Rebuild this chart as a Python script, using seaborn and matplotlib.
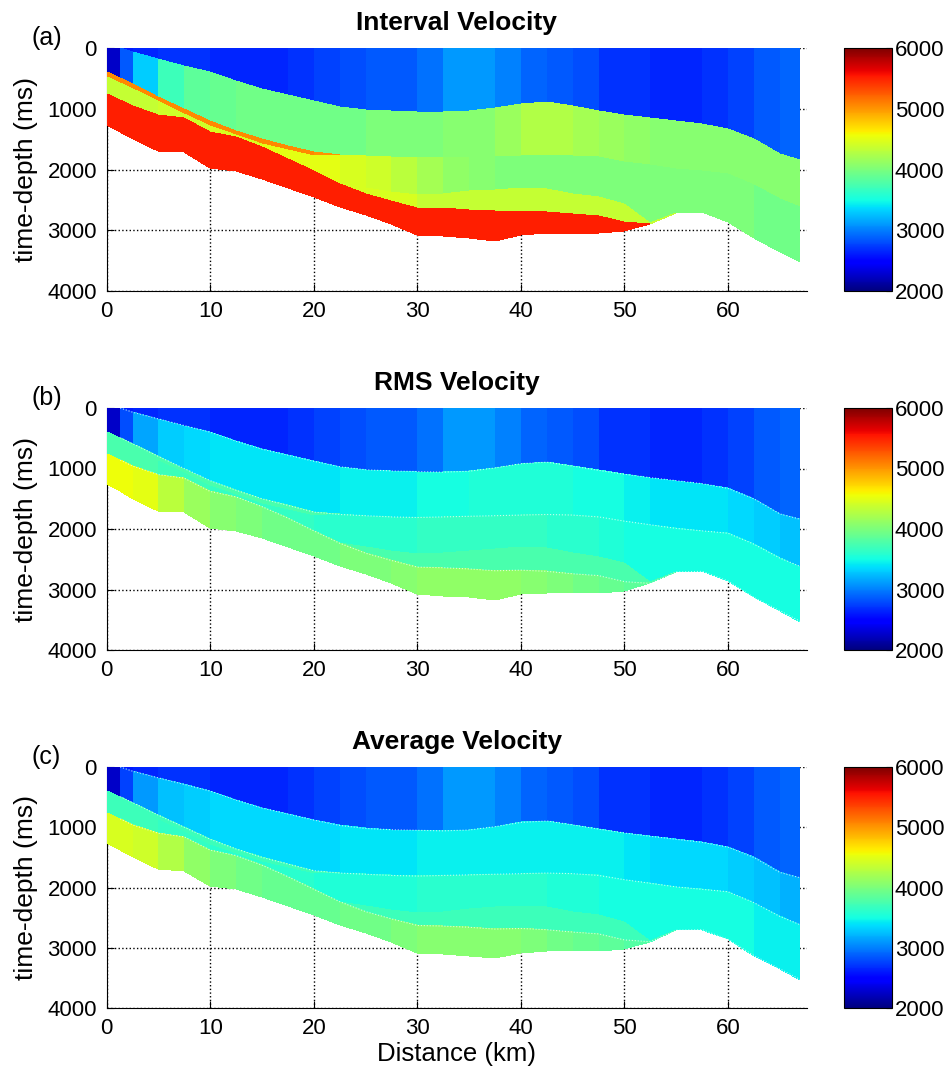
import numpy as np
import matplotlib
matplotlib.use('Agg')
import matplotlib.pyplot as plt
import seaborn as sns

sns.set_style('ticks', {'axes.edgecolor': 'black', 'text.color': 'black',
                        'axes.labelcolor': 'black', 'xtick.color': 'black',
                        'ytick.color': 'black'})
plt.rcParams['font.family'] = ['Liberation Sans', 'DejaVu Sans']

# node positions along the line (km)
distance_km = [0, 1.3, 2.5, 5, 7.5, 10, 12.5, 15, 17.5, 20, 22.5, 25, 27.5, 30, 32.5,
               35, 37.5, 40, 42.5, 45, 47.5, 50, 52.5, 55, 57.5, 60, 62.5, 65, 67]

# interfaces (ms)
surface_ms = [0] * 29
water_base_ms = [0, 0, 70, 180, 290, 400, 550, 680, 780, 880, 970, 1020, 1040, 1050, 1060,
                 1045, 990, 920, 895, 960, 1030, 1095, 1150, 1200, 1250, 1330, 1500, 1750, 1840]
layer2_base_ms = [395, 490, 590, 800, 1000, 1200, 1360, 1500, 1610, 1720, 1760, 1780, 1800, 1810, 1800,
                  1790, 1780, 1770, 1760, 1770, 1800, 1870, 1930, 1990, 2030, 2070, 2250, 2480, 2620]
strip_base_ms = [480, 570, 670, 880, 1080, 1290, 1440, 1580, 1680, 1780, 1760, 1780, 1800, 1810, 1800,
                 1790, 1780, 1770, 1760, 1770, 1800, 1870, 1930, 1990, 2030, 2070, 2250, 2480, 2620]
layer3_base_ms = [760, 860, 960, 1100, 1160, 1380, 1470, 1630, 1820, 2030, 2235, 2300, 2370, 2420, 2400,
                  2360, 2330, 2300, 2320, 2400, 2460, 2570, 2880, 2710, 2700, 2860, 3130, 3350, 3530]
layer4_base_ms = [760, 860, 960, 1100, 1160, 1380, 1470, 1630, 1820, 2030, 2235, 2400, 2520, 2630, 2640,
                  2660, 2690, 2680, 2700, 2740, 2770, 2870, 2900, 2710, 2700, 2860, 3130, 3350, 3530]
bottom_ms = [1260, 1380, 1500, 1700, 1720, 1980, 2030, 2150, 2300, 2450, 2615, 2750, 2900, 3080, 3100,
             3130, 3170, 3080, 3050, 3060, 3050, 3020, 2900, 2710, 2700, 2860, 3130, 3350, 3530]

# velocities (m/s) per column between nodes
water_vel = [2600, 2600, 2650, 2700, 2700, 2650, 2650, 2650, 2700, 2750, 2800, 2850, 2850, 2950,
             3100, 3100, 3000, 2900, 2850, 2800, 2700, 2700, 2650, 2650, 2700, 2750, 2850, 2900]

int_layer2 = [2250, 2850, 3300, 3700, 3850, 3900, 3950, 3950, 3950, 3950, 3950, 4000, 4000, 4000,
              4050, 4050, 4150, 4250, 4250, 4200, 4150, 4100, 4050, 4050, 4050, 4050, 4050, 4050]
int_strip = [5050] * 9 + [5000] + [4450] * 18
int_layer3 = [4350, 4350, 4350, 4400, 4400, 4450, 4450, 4500, 4500, 4500, 4450, 4400, 4300, 4200,
              4100, 4050, 4000, 4000, 4000, 4000, 4000, 4000, 4000, 4000, 4000, 4000, 3950, 3950]
int_layer4 = [4450] * 13 + [4350] * 15
int_layer5 = [5500] * 28

rms_layer2 = [2250, 2800, 3150, 3300, 3350, 3400, 3400, 3400, 3400, 3400, 3450, 3450, 3450, 3500,
              3500, 3550, 3550, 3550, 3550, 3500, 3500, 3450, 3400, 3400, 3400, 3350, 3300, 3250]
rms_strip = [3750] * 10 + [3600] * 18
rms_layer3 = [3750, 3750, 3750, 3700, 3700, 3650, 3650, 3650, 3650, 3600, 3600, 3600, 3600, 3650,
              3650, 3650, 3650, 3650, 3600, 3600, 3550, 3500, 3500, 3500, 3500, 3500, 3500, 3500]
rms_layer4 = [3750] * 28
rms_layer5 = [4550, 4550, 4500, 4300, 4150, 4050, 4000, 3950, 3950, 3950, 4000, 4000, 4050, 4100,
              4100, 4100, 4100, 4050, 4000, 3950, 3900, 3850, 3850, 3850, 3850, 3850, 3850, 3850]

avg_layer2 = [2250, 2750, 3100, 3250, 3300, 3350, 3350, 3350, 3350, 3350, 3400, 3400, 3400, 3450,
              3450, 3450, 3450, 3450, 3450, 3450, 3450, 3400, 3350, 3350, 3350, 3300, 3250, 3200]
avg_strip = [3700] * 10 + [3550] * 18
avg_layer3 = [3700, 3700, 3700, 3650, 3650, 3600, 3600, 3600, 3600, 3550, 3550, 3550, 3550, 3600,
              3600, 3600, 3600, 3600, 3550, 3550, 3500, 3500, 3500, 3500, 3500, 3500, 3450, 3450]
avg_layer4 = [3700] * 28
avg_layer5 = [4450, 4450, 4400, 4250, 4100, 4000, 3950, 3900, 3900, 3900, 3950, 3950, 4000, 4050,
              4050, 4050, 4050, 4000, 3950, 3900, 3850, 3800, 3800, 3800, 3800, 3800, 3800, 3800]

panels = [
    ('Interval Velocity', '(a)', [water_vel, int_layer2, int_strip, int_layer3, int_layer4, int_layer5], False),
    ('RMS Velocity', '(b)', [water_vel, rms_layer2, rms_strip, rms_layer3, rms_layer4, rms_layer5], True),
    ('Average Velocity', '(c)', [water_vel, avg_layer2, avg_strip, avg_layer3, avg_layer4, avg_layer5], True),
]

W, H = 948, 1076
fig = plt.figure(figsize=(W / 100, H / 100), dpi=100)

axes_px = [(48, 291), (408, 650), (767, 1008)]  # top, bottom in pixels

bounds = np.vstack([surface_ms, water_base_ms, layer2_base_ms, strip_base_ms,
                    layer3_base_ms, layer4_base_ms, bottom_ms])
xs = np.tile(np.array(distance_km, dtype=float), (bounds.shape[0], 1))

for i, (title, letter, layers, dotted) in enumerate(panels):
    top, bot = axes_px[i]
    ax = fig.add_axes([106.7 / W, 1 - bot / H, 700 / W, (bot - top) / H])
    cax = fig.add_axes([844 / W, 1 - bot / H, 48 / W, (bot - top) / H])

    mesh = ax.pcolormesh(xs, bounds, np.vstack(layers), cmap='jet', vmin=2000, vmax=6000,
                         shading='flat', zorder=3)
    if dotted:
        for line in [water_base_ms, layer2_base_ms, layer4_base_ms]:
            ax.plot(distance_km[1:], line[1:], color='white', linestyle=':', linewidth=0.8,
                    alpha=0.7, zorder=4)

    ax.set_xlim(0, 67.6)
    ax.set_ylim(4000, 0)
    ax.set_xticks(range(0, 61, 10))
    ax.set_yticks(range(0, 4001, 1000))
    ax.set_axisbelow(True)
    ax.grid(True, linestyle=':', color='k', linewidth=1.0)
    ax.tick_params(direction='in', length=5, labelsize=16, pad=7, colors='black')
    sns.despine(ax=ax, top=True, right=True)
    ax.set_title(title, fontsize=19, fontweight='bold', pad=13, color='black')
    ax.set_ylabel('time-depth (ms)', fontsize=19, color='black')
    ax.yaxis.set_label_coords(-0.098, 0.5)
    ax.text(-0.107, 1.041, letter, transform=ax.transAxes, fontsize=18, ha='left', va='center',
            color='black')
    if i == 2:
        ax.set_xlabel('Distance (km)', fontsize=18.5, labelpad=2, color='black')

    cbar = fig.colorbar(mesh, cax=cax, ticks=[2000, 3000, 4000, 5000, 6000])
    cbar.ax.tick_params(direction='in', length=4, labelsize=16, pad=2, colors='black')
    cbar.outline.set_linewidth(0.8)
    cbar.outline.set_edgecolor('black')

fig.savefig('out.png', dpi=100)
